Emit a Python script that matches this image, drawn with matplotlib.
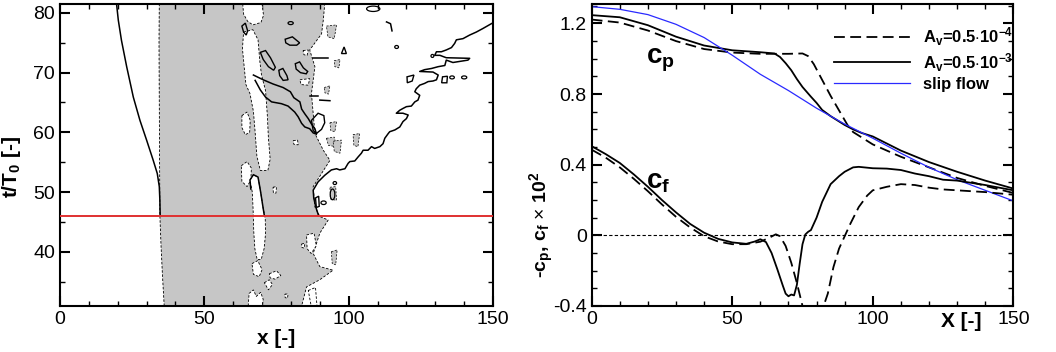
import numpy as np
import matplotlib
matplotlib.use('Agg')
import matplotlib.pyplot as plt
from matplotlib.patches import Ellipse
from matplotlib.ticker import MultipleLocator, FuncFormatter
from matplotlib.transforms import blended_transform_factory

plt.rcParams['font.family'] = 'Liberation Sans'
plt.rcParams['mathtext.fontset'] = 'custom'
plt.rcParams['mathtext.rm'] = 'Liberation Sans'
plt.rcParams['mathtext.bf'] = 'Liberation Sans:bold'
plt.rcParams['mathtext.it'] = 'Liberation Sans:italic'

# ---------------- left panel: x-t map ----------------
t_red = 46.0

# gray region (reverse flow), outline
gray_x = [36.1, 35.5, 35.0, 34.6, 34.5, 34.4, 34.3, 34.4, 91.7, 91.2, 90.6, 86.5, 88.3, 87.1,
          88.3, 91.2, 93.5, 90.6, 87.7, 88.3, 90.0, 92.9, 90.0, 87.7, 90.0, 94.6, 90.0, 85.4, 83.7]
gray_t = [30.9, 36.0, 41.0, 46.1, 55.0, 65.0, 75.0, 81.5, 81.5, 78.8, 76.5, 73.8, 71.0, 66.5,
          59.8, 57.0, 55.3, 53.1, 50.9, 47.5, 45.9, 45.3, 43.1, 39.7, 37.5, 36.9, 35.3, 34.1, 30.9]

# white holes inside the gray region
holes = [
    ([63.6, 66.8, 68.6, 69.2, 69.8, 71.2, 71.8, 72.2, 72.8, 72.0, 69.4, 68.2, 67.6, 67.0, 65.8, 64.4, 63.8, 63.2],
     [76.8, 77.2, 75.5, 72.0, 69.6, 67.0, 63.0, 59.0, 55.5, 53.6, 53.6, 56.0, 60.0, 63.5, 66.5, 68.0, 71.0, 74.0]),
    ([63.3, 63.6, 65.0, 66.8, 69.6, 70.5, 70.0],
     [81.5, 79.8, 78.6, 78.0, 78.4, 79.6, 81.5]),
    ([63.0, 64.8, 65.9, 65.7, 64.2, 63.0],
     [62.8, 63.4, 62.0, 60.0, 59.6, 60.8]),
    ([62.8, 64.8, 66.3, 66.1, 64.8, 63.0],
     [54.4, 55.1, 54.0, 52.0, 50.9, 51.8]),
    ([65.8, 67.0, 68.6, 69.5, 70.3, 71.1, 71.2, 70.7, 69.7, 68.3, 67.5, 67.1, 66.9, 66.6],
     [52.0, 52.9, 52.5, 50.0, 47.5, 45.5, 43.0, 40.5, 38.7, 38.7, 40.5, 43.5, 47.0, 50.0]),
    ([66.5, 68.5, 70.0, 69.0, 67.0], [38.0, 38.5, 37.0, 35.8, 36.2]),
    ([72.5, 75.0, 76.5, 74.5, 72.8], [36.3, 36.8, 36.0, 35.4, 35.6]),
    ([70.8, 72.5, 73.6, 72.2], [34.8, 35.3, 34.5, 33.6]),
    ([65.2, 65.5, 67.0, 68.0, 69.5, 70.4, 70.0], [30.9, 33.0, 33.6, 32.5, 33.2, 32.0, 30.9]),
    ([80.8, 82.3, 82.5, 81.0], [58.6, 58.7, 57.9, 58.0]),
    ([73.8, 75.0, 74.8, 73.9], [50.8, 50.9, 49.8, 49.9]),
    ([83.7, 84.8, 84.6, 83.8], [41.3, 41.4, 40.6, 40.7]),
    ([83.1, 86.5, 86.0, 83.5], [68.8, 69.0, 67.9, 68.0]),
    ([84.2, 86.0, 85.6, 84.5], [73.7, 73.8, 72.9, 73.0]),
    ([77.9, 79.0, 78.8, 78.0], [32.9, 32.9, 32.2, 32.3]),
    ([85.4, 88.0, 88.8, 87.0, 85.6], [42.8, 43.1, 41.0, 39.7, 40.5]),
    ([86.0, 88.5, 89.0, 87.0], [33.5, 34.0, 31.0, 30.9]),
]

# small gray flecks in the attached-flow region
flecks = [
    ([92.3, 95.0, 95.8, 93.0], [59.0, 59.2, 57.6, 57.8]),
    ([93.5, 95.5, 95.8, 93.8], [50.8, 50.9, 48.6, 48.8]),
    ([93.5, 95.8, 95.2, 93.8], [61.6, 61.8, 60.1, 60.3]),
    ([94.6, 97.5, 97.0, 95.0], [58.5, 58.7, 56.5, 56.8]),
    ([92.3, 95.8, 95.0, 92.8], [77.8, 78.0, 75.7, 76.0]),
    ([101.5, 103.8, 103.2, 101.8], [59.6, 59.8, 57.6, 57.8]),
    ([94.0, 96.0, 95.5, 94.3], [40.0, 40.3, 37.8, 38.0]),
    ([91.5, 93.5, 93.0, 91.8], [67.5, 67.8, 66.4, 66.6]),
    ([95.0, 97.0, 96.6, 95.2], [72.0, 72.2, 70.8, 71.0]),
]

# solid contour lines
left_line_x = [19.6, 20.2, 21.3, 23.1, 25.4, 27.7, 30.0, 32.3, 33.7, 34.4, 34.6, 34.7]
left_line_t = [81.5, 78.8, 75.4, 71.0, 65.9, 62.0, 58.7, 55.3, 53.1, 50.9, 48.6, 46.1]

line_a_x = [67.0, 70.4, 73.8, 77.3, 79.8, 81.0, 83.1, 83.7, 84.8, 86.0, 87.1, 88.3, 88.8]
line_a_t = [69.6, 68.8, 68.1, 67.5, 66.8, 65.8, 65.1, 63.9, 63.1, 62.3, 61.4, 60.6, 59.8]
line_b_x = [67.6, 69.4, 71.2, 73.3, 76.7, 79.0, 81.3, 82.5, 83.7, 84.8, 86.5, 87.7, 88.8]
line_b_t = [68.7, 67.1, 65.9, 65.1, 64.8, 64.4, 63.4, 62.6, 61.5, 60.9, 60.6, 59.9, 59.7]
strip_cap_x = [66.1, 65.8, 67.0, 68.6, 69.5, 70.3, 70.8]
strip_cap_t = [50.5, 52.0, 52.9, 52.5, 50.0, 47.5, 46.0]

front_x = [89.6, 88.6, 87.9, 87.7, 89.4, 91.7, 94.0, 95.8, 96.9, 98.7, 99.8, 100.4, 102.1, 103.3,
           104.4, 105.0, 106.7, 107.9, 109.0, 110.8, 111.9, 112.5, 113.7, 114.2, 116.0, 117.7,
           118.8, 120.0, 120.6, 118.8, 116.5, 117.7, 118.8, 120.0, 121.7, 122.9, 124.0, 124.6,
           122.9, 123.4, 124.6, 126.3, 127.5, 129.2, 130.4, 131.0, 129.2, 124.6, 126.3, 128.7,
           131.0, 133.3, 133.8, 136.1, 141.3, 141.9, 133.8, 131.6, 129.8, 130.4, 132.1, 133.8,
           135.6, 136.7, 137.3, 139.6, 141.9, 144.2, 146.5, 149.4, 150.6]
front_t = [46.0, 47.5, 49.0, 50.3, 51.7, 52.8, 53.7, 53.9, 53.7, 53.9, 54.8, 55.1, 55.2, 55.9,
           56.5, 57.0, 57.0, 57.6, 57.3, 57.6, 58.1, 59.0, 59.8, 60.1, 60.4, 60.9,
           61.8, 62.3, 62.9, 63.2, 63.2, 63.7, 64.0, 64.3, 64.4, 65.1, 65.4, 66.2,
           66.8, 67.3, 67.9, 68.2, 68.5, 68.6, 68.8, 69.6, 70.1, 70.2, 70.5, 70.7,
           71.0, 71.2, 72.1, 71.7, 72.1, 72.4, 72.5, 72.9, 72.9, 73.5, 73.5, 73.8,
           74.2, 74.9, 75.5, 75.7, 76.3, 76.8, 77.4, 78.2, 78.5]

loops = [
    ([69.4, 71.2, 72.9, 74.6, 74.0, 72.2, 70.4], [73.4, 73.7, 72.5, 70.9, 70.4, 71.0, 72.2]),
    ([75.8, 77.2, 78.6, 79.0, 77.3, 76.1], [70.4, 70.7, 69.5, 68.8, 68.7, 69.5]),
    ([81.5, 83.0, 84.3, 85.8, 85.3, 83.3, 81.8], [71.5, 71.8, 70.8, 70.2, 69.8, 70.0, 70.6]),
    ([78.0, 80.5, 83.0, 82.0, 79.6, 78.2], [75.6, 76.0, 75.0, 74.6, 74.6, 75.0]),
    ([87.1, 89.4, 91.4, 91.7, 90.6, 88.8, 87.7], [62.0, 63.2, 62.8, 61.6, 60.5, 59.8, 60.3]),
    ([63.0, 64.2, 65.0, 64.5, 63.6], [77.8, 78.3, 77.0, 76.3, 76.8]),
    ([120.2, 122.6, 122.0, 120.3], [69.3, 69.6, 68.6, 68.3]),
    ([132.2, 132.5, 134.2, 134.0], [68.3, 69.3, 69.4, 68.3]),
    ([97.5, 98.4, 99.2], [73.2, 74.3, 73.2]),
    ([88.5, 89.6, 89.8, 88.8], [49.0, 49.3, 47.6, 47.4]),
]
# short solid strokes
strokes = [
    ([113.1, 114.5, 115.0], [78.5, 78.2, 77.0]),
    ([87.7, 92.9], [72.4, 72.4]),
    ([90.0, 93.5], [65.4, 65.3]),
    ([86.5, 89.4], [66.1, 66.1]),
]

# small closed ovals: centre x, centre t, width, height
oval_x = [108.5, 116.6, 135.8, 140.0, 94.4, 91.3, 79.9, 129.0, 95.2]
oval_t = [80.7, 74.3, 69.2, 69.2, 49.6, 48.2, 78.3, 72.8, 51.5]
oval_w = [4.6, 1.3, 1.6, 1.8, 1.6, 1.8, 1.8, 1.0, 1.2]
oval_h = [0.9, 0.5, 0.5, 0.5, 1.8, 0.6, 0.5, 0.5, 0.5]

# ---------------- right panel: wall coefficients ----------------
x_cp_s = [0, 10, 20, 30, 40, 50, 60, 65, 67, 69, 71, 73, 75, 78, 80, 82, 85, 88, 90, 93, 96, 100,
          110, 120, 130, 140, 150]
cp_s = [1.247, 1.235, 1.19, 1.125, 1.075, 1.048, 1.037, 1.03, 1.01, 0.975, 0.935, 0.885, 0.84,
        0.785, 0.75, 0.71, 0.675, 0.645, 0.625, 0.60, 0.58, 0.56, 0.48, 0.415, 0.36, 0.31, 0.265]

x_cp_d = [0, 10, 20, 30, 40, 50, 60, 70, 75, 77, 79, 81, 83, 85, 87, 89, 91, 93, 96, 100,
          110, 120, 130, 140, 150]
cp_d = [1.222, 1.205, 1.16, 1.10, 1.055, 1.035, 1.028, 1.028, 1.03, 1.015, 0.97, 0.91, 0.85,
        0.79, 0.735, 0.68, 0.625, 0.585, 0.555, 0.515, 0.445, 0.385, 0.325, 0.28, 0.24]

x_slip = [0, 10, 20, 30, 40, 50, 60, 70, 80, 90, 100, 110, 120, 130, 140, 150]
cp_slip = [1.295, 1.28, 1.25, 1.195, 1.12, 1.02, 0.912, 0.82, 0.72, 0.63, 0.55, 0.465, 0.385,
           0.315, 0.255, 0.195]

x_cf_s = [0, 5, 10, 15, 20, 25, 30, 35, 40, 45, 50, 55, 58, 60, 62, 64, 66, 68, 69, 70, 71, 72,
          73, 74, 75, 76, 77, 78, 80, 82, 85, 88, 90, 93, 95, 100, 105, 110, 115, 120, 125, 130,
          140, 150]
cf_s = [0.505, 0.46, 0.41, 0.345, 0.275, 0.20, 0.13, 0.065, 0.015, -0.02, -0.04, -0.048, -0.035,
        -0.022, -0.038, -0.10, -0.19, -0.285, -0.33, -0.345, -0.335, -0.34, -0.28, -0.16, -0.05,
        0.005, 0.02, 0.03, 0.10, 0.19, 0.29, 0.335, 0.36, 0.385, 0.388, 0.38, 0.378, 0.37, 0.35,
        0.335, 0.315, 0.31, 0.285, 0.255]

x_cf_d = [0, 5, 10, 15, 20, 25, 30, 35, 40, 45, 50, 55, 60, 63, 65.5, 67, 69, 71, 73, 75, 77,
          79, 81, 82.5, 84, 86, 88, 90, 92, 95, 98, 100, 105, 110, 115, 120, 125, 130, 140, 150]
cf_d = [0.485, 0.44, 0.385, 0.32, 0.25, 0.175, 0.105, 0.045, -0.005, -0.035, -0.05, -0.05,
        -0.036, -0.015, 0.006, -0.005, -0.06, -0.155, -0.27, -0.4, -0.5, -0.55, -0.5, -0.4,
        -0.33, -0.18, -0.075, -0.005, 0.065, 0.16, 0.225, 0.255, 0.275, 0.29, 0.285, 0.27, 0.26,
        0.255, 0.245, 0.23]

labels = [r'A$_\mathbf{v}$=0.5$\mathbf{\cdot}$10$^\mathbf{-4}$',
          r'A$_\mathbf{v}$=0.5$\mathbf{\cdot}$10$^\mathbf{-3}$',
          'slip flow']

# ---------------- drawing ----------------
fig = plt.figure(figsize=(10.56, 3.52), dpi=100)
ax1 = fig.add_axes([0.0568, 0.1307, 0.4101, 0.8579])
ax2 = fig.add_axes([0.5603, 0.1307, 0.3993, 0.8579])

gray = '#c6c6c6'
dash = (0, (3, 2))

ax1.fill(gray_x, gray_t, facecolor=gray, edgecolor='k', lw=0.6, ls=dash, zorder=1)
for hx, ht in holes:
    ax1.fill(hx, ht, facecolor='white', edgecolor='k', lw=0.6, ls=dash, zorder=2)
for fx, ft in flecks:
    ax1.fill(fx, ft, facecolor=gray, edgecolor='k', lw=0.5, ls=dash, zorder=2)

for lx, lt in [(left_line_x, left_line_t), (line_a_x, line_a_t), (line_b_x, line_b_t),
               (strip_cap_x, strip_cap_t), (front_x, front_t)]:
    ax1.plot(lx, lt, color='k', lw=1.1, zorder=3)
for lx, lt in loops:
    ax1.fill(lx, lt, facecolor='none', edgecolor='k', lw=1.0, zorder=3)
for kx, kt in strokes:
    ax1.plot(kx, kt, color='k', lw=1.1, zorder=3)
for cx, ct, w, h in zip(oval_x, oval_t, oval_w, oval_h):
    ax1.add_patch(Ellipse((cx, ct), w, h, facecolor='none', edgecolor='k', lw=0.9, zorder=3))

ax1.axhline(t_red, color='#e03030', lw=1.4, zorder=4)

ax1.set_xlim(0, 150)
ax1.set_ylim(30.9, 81.5)
ax1.xaxis.set_major_locator(MultipleLocator(50))
ax1.xaxis.set_minor_locator(MultipleLocator(10))
ax1.yaxis.set_major_locator(MultipleLocator(10))
ax1.yaxis.set_minor_locator(MultipleLocator(5))
ax1.set_xlabel('x [-]', fontsize=15, fontweight='bold', labelpad=1)
ax1.set_ylabel(r't/T$_\mathbf{0}$ [-]', fontsize=15, fontweight='bold')
ax1.yaxis.set_label_coords(-0.085, 0.46)

ax2.plot(x_cp_d, cp_d, color='k', lw=1.3, ls=(0, (6, 3)), label=labels[0])
ax2.plot(x_cp_s, cp_s, color='k', lw=1.3, label=labels[1])
ax2.plot(x_slip, cp_slip, color='#2a2aff', lw=0.9, label=labels[2])
ax2.plot(x_cf_d, cf_d, color='k', lw=1.3, ls=(0, (6, 3)))
ax2.plot(x_cf_s, cf_s, color='k', lw=1.3)
ax2.axhline(0, color='k', lw=0.8, ls=dash)

ax2.text(19.5, 0.99, r'$\mathbf{c_p}$', fontsize=20, va='center', ha='left')
ax2.text(19.5, 0.30, r'$\mathbf{c_f}$', fontsize=20, va='center', ha='left')

ax2.set_xlim(0, 150)
ax2.set_ylim(-0.4, 1.31)
ax2.xaxis.set_major_locator(MultipleLocator(50))
ax2.xaxis.set_minor_locator(MultipleLocator(10))
ax2.yaxis.set_major_locator(MultipleLocator(0.4))
ax2.yaxis.set_minor_locator(MultipleLocator(0.1))
ax2.yaxis.set_major_formatter(FuncFormatter(lambda v, p: '0' if abs(v) < 1e-9 else f'{v:.1f}'))
ax2.set_ylabel(r'-c$_\mathbf{p}$, c$_\mathbf{f}$ $\times$ 10$^\mathbf{2}$', fontsize=14,
               fontweight='bold')
ax2.yaxis.set_label_coords(-0.085, 0.27)
tr = blended_transform_factory(ax2.transData, ax2.transAxes)
ax2.text(131.5, -0.02, 'X [-]', transform=tr, fontsize=15, fontweight='bold', ha='center', va='top')

leg = ax2.legend(loc='upper right', bbox_to_anchor=(1.035, 0.98), frameon=False,
                 prop={'weight': 'bold', 'size': 12}, handlelength=4.6,
                 labelspacing=0.2, handletextpad=0.75)

for ax in (ax1, ax2):
    ax.tick_params(which='both', direction='in', top=True, right=True, labelsize=14)
    ax.tick_params(which='major', length=7, width=1.5)
    ax.tick_params(which='minor', length=3.5, width=1)
    for s in ax.spines.values():
        s.set_linewidth(1.5)

fig.savefig('out.png', dpi=100)
